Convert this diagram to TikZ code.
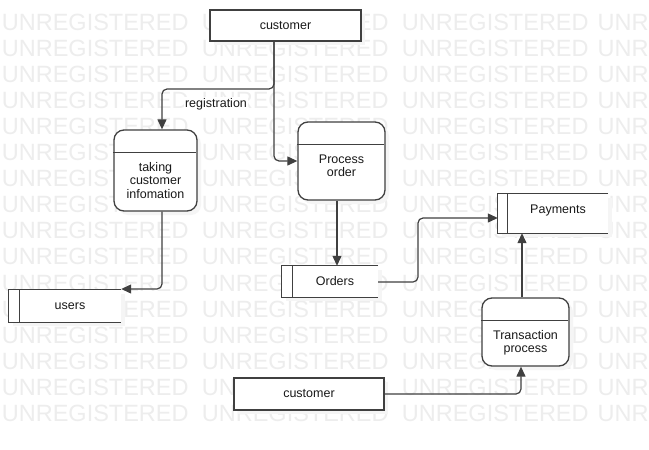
\documentclass[tikz,border=0pt]{standalone}
\usepackage{fontspec}
\setmainfont{Liberation Sans}
\usetikzlibrary{arrows.meta}
\definecolor{linec}{RGB}{64,64,64}
\definecolor{wmark}{RGB}{237,237,237}
\definecolor{shadowc}{RGB}{245,245,245}
\tikzset{
  every picture/.style={x=1pt,y=-1pt},
  wm/.style={anchor=base west,inner sep=0pt,text=wmark,font=\fontsize{23.5}{24}\selectfont},
  lbl/.style={font=\fontsize{12.5}{13.3}\selectfont,text=black!90,align=center,inner sep=0pt},
  extbox/.style={draw=linec,line width=1.3pt,fill=white,inner sep=0pt},
  procbox/.style={draw=linec,line width=1.3pt,fill=white,rounded corners=10pt,inner sep=0pt},
  storebox/.style={draw=none,fill=white,inner sep=0pt},
  storeline/.style={draw=linec,line width=1.3pt},
  conn/.style={draw=linec,line width=1.2pt,rounded corners=5pt,-{Triangle[length=10pt,width=9pt]}},
}
\begin{document}
\begin{tikzpicture}
\useasboundingbox (0,0) rectangle (649,450);
\fill[white] (0,0) rectangle (649,450);
% watermark
\foreach \r in {0,...,15}{
  \foreach \c in {0,1,2}{
    \node[wm] (wm-\r-\c) at ({1.7+200*\c},{30+26.1*\r}) {UNREGISTERED};
  }
  \node[wm] (wm-\r-3) at (597.5,{30+26.1*\r}) {UNR};
}
% shadows
\foreach \a/\b/\c/\d in {210/10/361/41, 234/378/384/410, 282/266/378/297, 9/290/121/322, 498/194/608/233}{
  \fill[shadowc] (\a+4,\b+4) rectangle (\c+4,\d+4);
}
\foreach \a/\b/\c/\d in {114/130/197/211, 298/122/385/200, 482/298/569/366}{
  \fill[shadowc,rounded corners=10pt] (\a+4,\b+4) rectangle (\c+4,\d+4);
}
% external entities
\node[extbox,minimum width=151pt,minimum height=31pt] (cust1) at (285.5,25.5) {};
\node[lbl] (cust1t) at (285.5,25.5) {customer};
\node[extbox,minimum width=150pt,minimum height=32pt] (cust2) at (309,394) {};
\node[lbl] (cust2t) at (309,394) {customer};
% processes
\node[procbox,minimum width=83pt,minimum height=81pt] (take) at (155.5,170.5) {};
\draw[storeline] (take.north west) ++(0,23) -- ++(83,0);
\node[lbl] (taket) at (155.5,180.5) {taking\\customer\\infomation};
\node[procbox,minimum width=87pt,minimum height=78pt] (proc) at (341.5,161) {};
\draw[storeline] (proc.north west) ++(0,23) -- ++(87,0);
\node[lbl] (proct) at (341.5,166) {Process\\order};
\node[procbox,minimum width=87pt,minimum height=68pt] (trans) at (525.5,332) {};
\draw[storeline] (trans.north west) ++(0,23) -- ++(87,0);
\node[lbl] (transt) at (525.5,343) {Transaction\\process};
% data stores
\node[storebox,minimum width=110pt,minimum height=39pt] (pay) at (553,213.5) {};
\draw[storeline] (pay.north east) -- (pay.north west) -- (pay.south west) -- (pay.south east);
\draw[storeline] ([xshift=10pt]pay.north west) -- ([xshift=10pt]pay.south west);
\node[lbl] (payt) at (558,210) {Payments};
\node[storebox,minimum width=96pt,minimum height=31pt] (ord) at (330,281.5) {};
\draw[storeline] (ord.north east) -- (ord.north west) -- (ord.south west) -- (ord.south east);
\draw[storeline] ([xshift=11pt]ord.north west) -- ([xshift=11pt]ord.south west);
\node[lbl] (ordt) at (335,281.5) {Orders};
\node[storebox,minimum width=112pt,minimum height=32pt] (users) at (65,306) {};
\draw[storeline] (users.north east) -- (users.north west) -- (users.south west) -- (users.south east);
\draw[storeline] ([xshift=11pt]users.north west) -- ([xshift=11pt]users.south west);
\node[lbl] (userst) at (70,306) {users};
% connectors
\draw[conn] (cust1.south -| 274,0) -- (274,89) -- (162,89) -- (take.north -| 162,0);
\node[lbl,fill=white,inner sep=1pt] (reg) at (216,104) {registration};
\draw[conn] (cust1.south -| 274,0) -- (274,161) -- (proc.west |- 0,161);
\draw[conn] (take.south -| 162,0) -- (162,289) -- (users.north east |- 0,289);
\draw[conn] (proc.south -| 337,0) -- (ord.north -| 337,0);
\draw[conn] (ord.east |- 0,282) -- (418,282) -- (418,218) -- (pay.west |- 0,218);
\draw[conn] (trans.north -| 522,0) -- (pay.south -| 522,0);
\draw[conn] (cust2.east) -- (521,394) -- (trans.south -| 521,0);
\end{tikzpicture}
\end{document}
